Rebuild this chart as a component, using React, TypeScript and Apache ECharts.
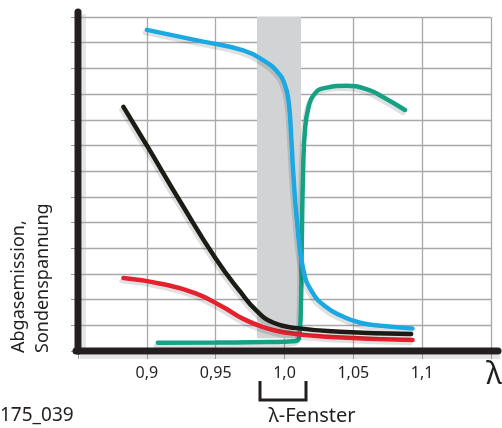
import React, { useEffect, useRef } from 'react';
import * as echarts from 'echarts';

const lambdaTicks = [0.9, 0.95, 1.0, 1.05, 1.1];
const tickLabels = ['0,9', '0,95', '1,0', '1,05', '1,1'];

const blueProbe: [number, number][] = [
  [0.9, 12.5], [0.94, 12.05], [0.97, 11.7], [0.985, 11.3], [0.995, 10.85],
  [1.0, 10.4], [1.003, 9.7], [1.005, 8.2], [1.0065, 6.8], [1.009, 5.1], [1.0135, 3.2],
  [1.02, 2.3], [1.03, 1.72], [1.042, 1.35], [1.055, 1.1], [1.07, 0.98], [1.093, 0.88],
];
const blackCurve: [number, number][] = [
  [0.883, 9.5], [0.9, 8.0], [0.925, 5.75], [0.95, 3.6], [0.968, 2.3], [0.98, 1.55],
  [0.992, 1.1], [1.008, 0.9], [1.04, 0.75], [1.092, 0.66],
];
const redCurve: [number, number][] = [
  [0.883, 2.84], [0.91, 2.62], [0.935, 2.25], [0.955, 1.72], [0.97, 1.25], [0.985, 0.92],
  [1.0, 0.72], [1.03, 0.55], [1.093, 0.43],
];
const greenCurve: [number, number][] = [
  [0.908, 0.32], [0.95, 0.33], [0.99, 0.35], [1.006, 0.38], [1.0105, 0.5], [1.0118, 1.5],
  [1.0125, 4], [1.0135, 7], [1.015, 8.7], [1.0175, 9.5], [1.021, 9.95], [1.028, 10.22],
  [1.045, 10.32], [1.06, 10.18], [1.0715, 9.89], [1.0875, 9.38],
];
const bandX = [0.98, 1.012];
const bandY = [0.5, 13];

const FONT = '"Noto Sans", "Open Sans", sans-serif';

export default function App() {
  const ref = useRef<HTMLDivElement>(null);
  useEffect(() => {
    if (!ref.current) return;
    const chart = echarts.init(ref.current, null, { renderer: 'svg' });
    const mkLine = (data: [number, number][], color: string) => ({
      type: 'line',
      data,
      z: 3,
      smooth: 0.5,
      showSymbol: false,
      symbol: 'none',
      lineStyle: {
        color,
        width: 4.5,
        cap: 'round',
        shadowColor: 'rgba(0,0,0,0.12)',
        shadowOffsetX: -2,
        shadowOffsetY: 3,
        shadowBlur: 0,
      },
    });
    chart.setOption({
      animation: false,
      grid: { left: 78, right: 11, top: 17, bottom: 77 },
      xAxis: {
        type: 'value',
        min: 0.85,
        max: 1.15,
        interval: 0.05,
        axisLine: { show: false },
        axisTick: { show: true, length: 8, lineStyle: { color: '#999', width: 1 } },
        splitLine: { show: true, lineStyle: { color: '#a9a9a9', width: 1.3 } },
        axisLabel: {
          margin: 13,
          fontFamily: FONT,
          fontSize: 16,
          color: '#231f20',
          formatter: (v: number) => {
            const i = lambdaTicks.findIndex((t) => Math.abs(t - v) < 1e-6);
            return i >= 0 ? tickLabels[i] : '';
          },
        },
      },
      yAxis: {
        type: 'value',
        min: 0,
        max: 13,
        interval: 1,
        axisLine: { show: false },
        axisTick: { show: true, length: 7, lineStyle: { color: '#999', width: 1 } },
        axisLabel: { show: false },
        splitLine: { show: true, lineStyle: { color: '#a9a9a9', width: 1.3 } },
      },
      series: [
        {
          type: 'line',
          data: [],
          z: 1,
          markArea: {
            silent: true,
            itemStyle: { color: '#d1d3d5' },
            data: [[{ coord: [bandX[0], bandY[0]] }, { coord: [bandX[1], bandY[1]] }]],
          },
        },
        mkLine(greenCurve, '#17a185'),
        mkLine(redCurve, '#e4202e'),
        mkLine(blackCurve, '#1f1a17'),
        mkLine(blueProbe, '#1ca8e2'),
      ],
      graphic: [
        { type: 'line', z: 0, shape: { x1: 84, y1: 14, x2: 84, y2: 353 }, style: { stroke: '#e6e6e6', lineWidth: 4 } },
        { type: 'line', z: 0, shape: { x1: 80, y1: 357, x2: 500, y2: 357 }, style: { stroke: '#e6e6e6', lineWidth: 4 } },
        { type: 'line', z: 10, shape: { x1: 78, y1: 12, x2: 78, y2: 351 }, style: { stroke: '#231f20', lineWidth: 7, lineCap: 'round' } },
        { type: 'line', z: 10, shape: { x1: 76, y1: 351, x2: 498, y2: 351 }, style: { stroke: '#231f20', lineWidth: 7, lineCap: 'round' } },
        {
          type: 'polyline', z: 10,
          shape: { points: [[260, 381], [260, 400], [306, 400], [306, 381]] },
          style: { stroke: '#231f20', lineWidth: 3, fill: 'none' },
        },
        {
          type: 'text', z: 10, x: 312, y: 414,
          style: { text: 'λ-Fenster', font: `20px ${FONT}`, fill: '#231f20', textAlign: 'center', textVerticalAlign: 'middle' },
        },
        {
          type: 'text', z: 10, x: 0, y: 414,
          style: { text: '175_039', font: `19px ${FONT}`, fill: '#231f20', textAlign: 'left', textVerticalAlign: 'middle' },
        },
        {
          type: 'text', z: 10, x: 494, y: 372,
          style: { text: 'λ', font: `30px ${FONT}`, fill: '#231f20', textAlign: 'center', textVerticalAlign: 'middle' },
        },
        {
          type: 'text', z: 10, x: 17, y: 353, rotation: Math.PI / 2,
          style: { text: 'Abgasemission,', font: `18px ${FONT}`, fill: '#231f20', textAlign: 'left', textVerticalAlign: 'middle' },
        },
        {
          type: 'text', z: 10, x: 41, y: 353, rotation: Math.PI / 2,
          style: { text: 'Sondenspannung', font: `18px ${FONT}`, fill: '#231f20', textAlign: 'left', textVerticalAlign: 'middle' },
        },
      ],
    });
    return () => chart.dispose();
  }, []);
  return <div ref={ref} style={{ width: 502, height: 428, position: 'fixed', left: 0, top: 0 }} />;
}
